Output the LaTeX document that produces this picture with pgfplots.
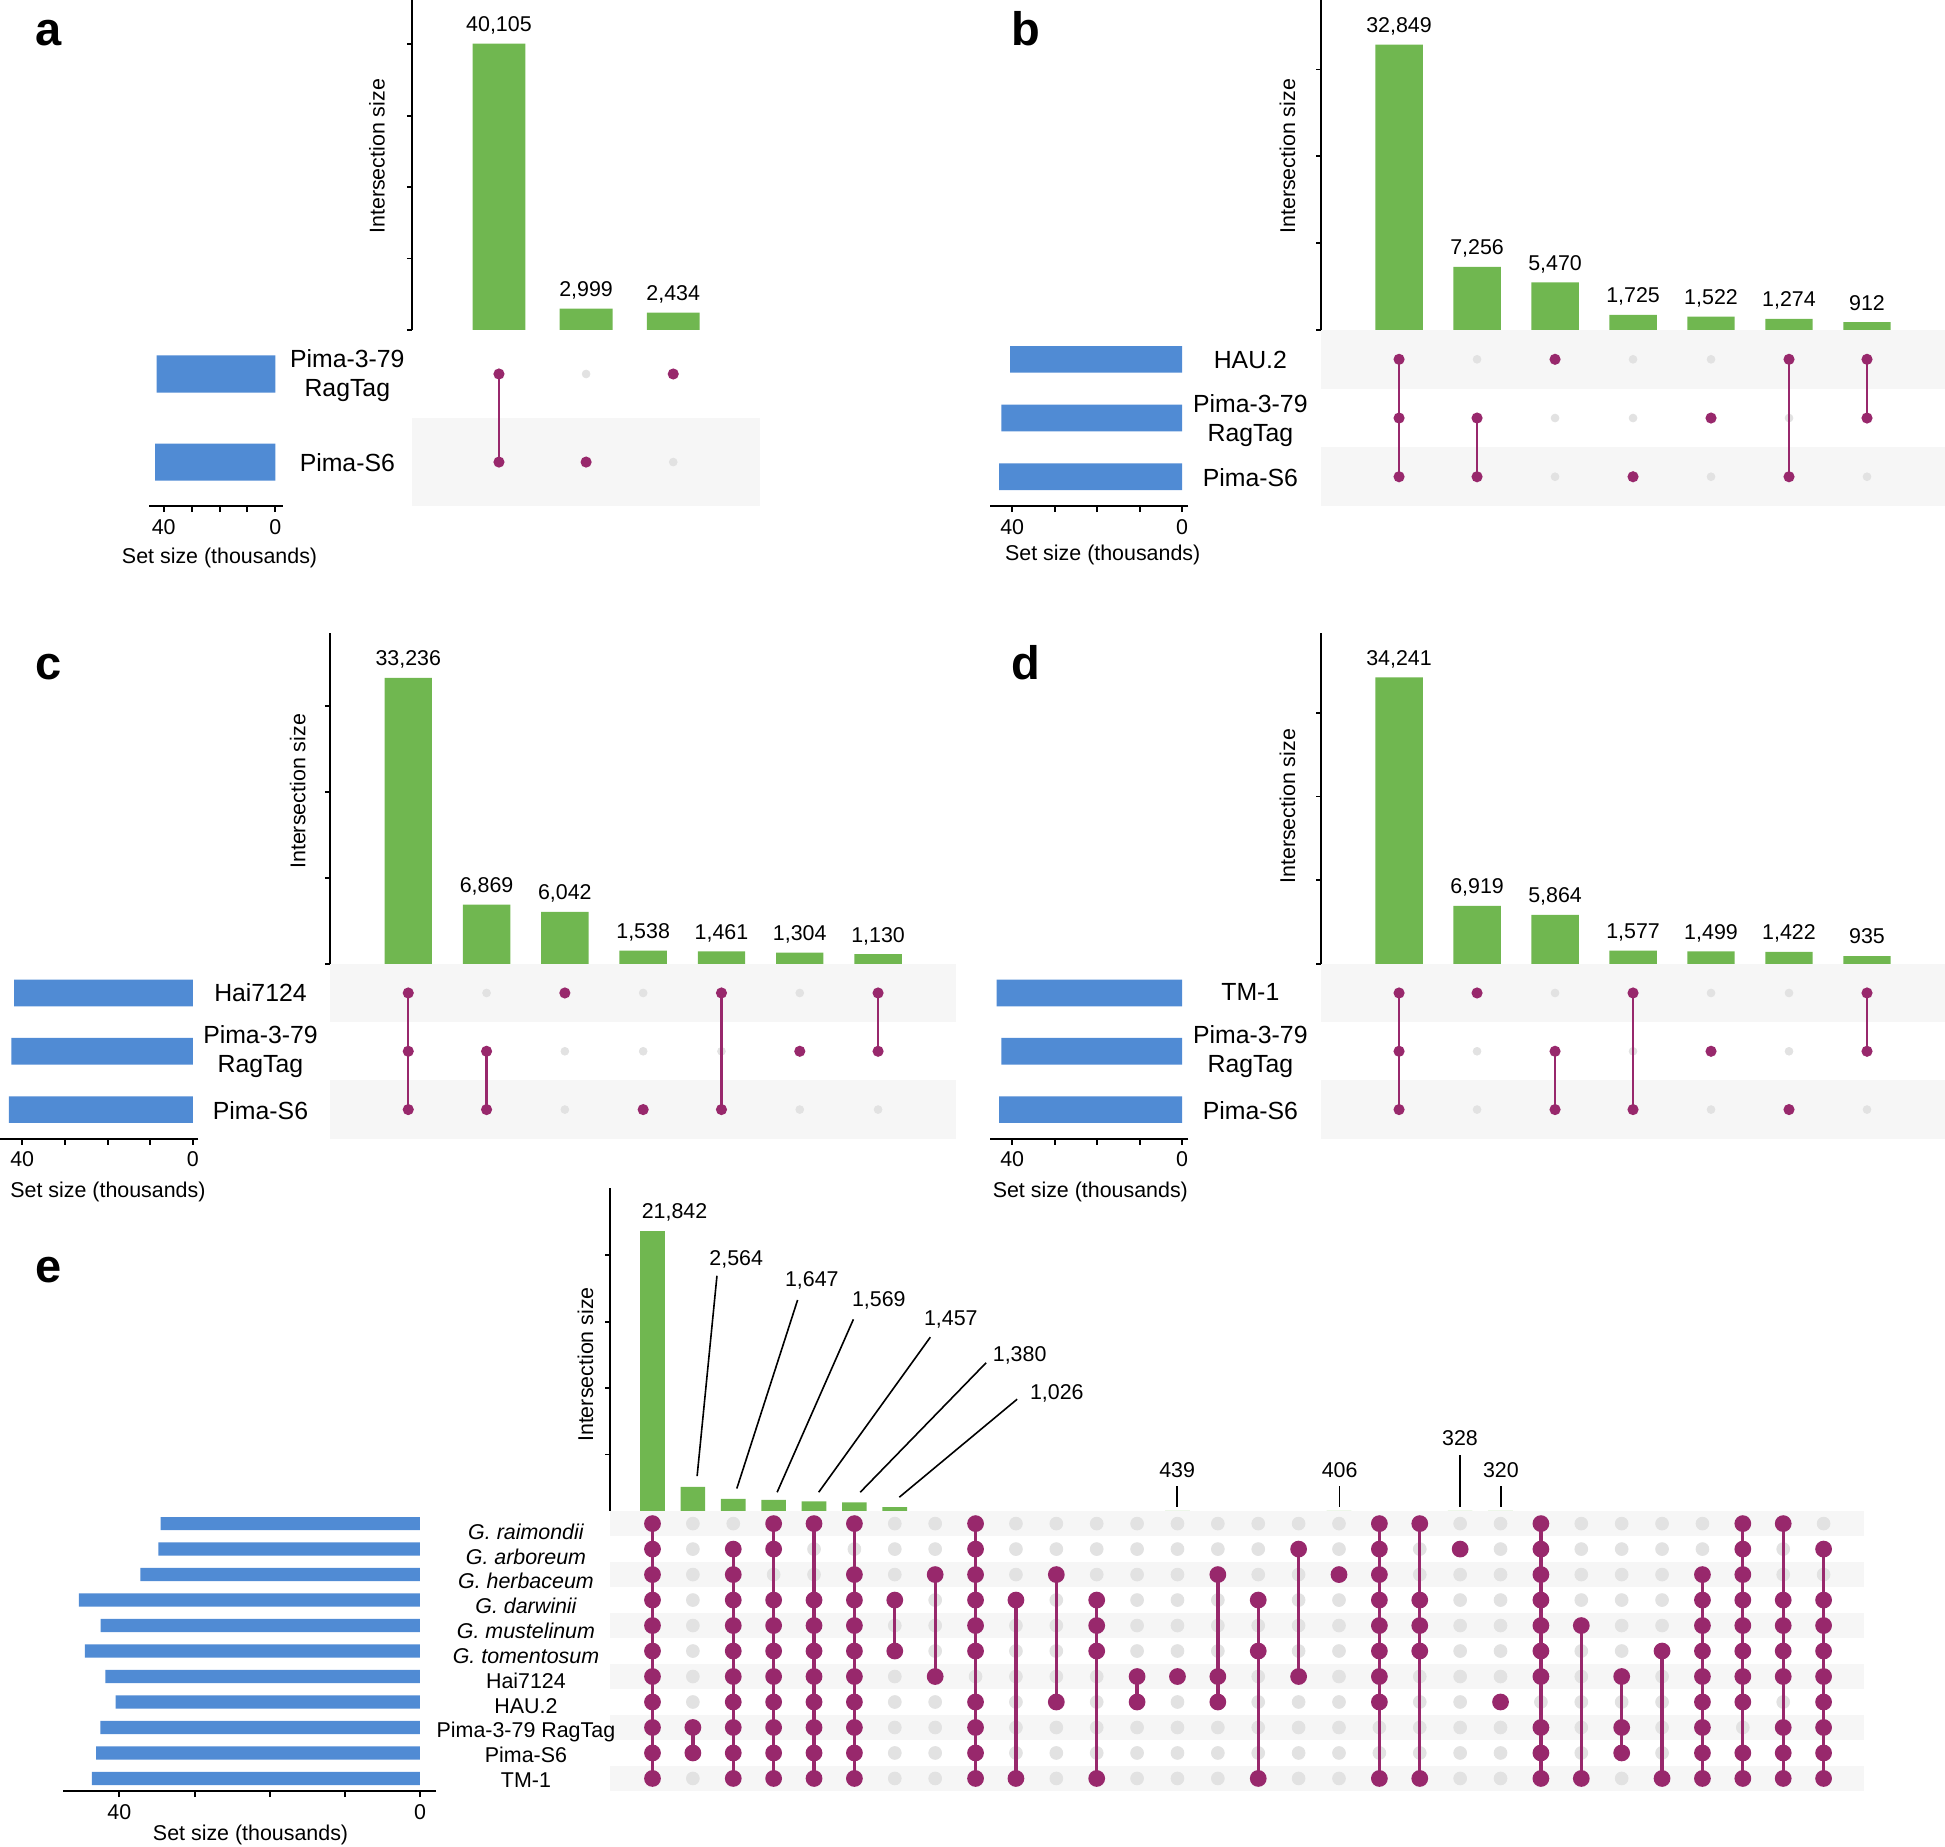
\documentclass[border=0pt]{standalone}
\usepackage{fontspec}
\setmainfont{Liberation Sans}
\usepackage{pgfplots}
\pgfplotsset{compat=1.18}

\definecolor{bargreen}{RGB}{112,183,80}
\definecolor{setblue}{RGB}{80,139,212}
\definecolor{dotpurple}{RGB}{152,40,108}
\definecolor{dotgray}{RGB}{226,226,226}
\definecolor{bandgray}{RGB}{246,246,246}

\newcommand\fa{\fontsize{10.7}{12.8}\selectfont}
\newcommand\fb{\fontsize{12.4}{14.3}\selectfont}
\newcommand\fl{\fontsize{23.5}{28}\selectfont\bfseries}

\pgfplotsset{
  every axis/.append style={scale only axis, clip=false, clip marker paths=true,
    font=\fa,
    /pgf/number format/assume math mode=true,
    /pgf/number format/1000 sep={,}},
  interbars/.style={ymin=0, axis x line=none, axis y line*=left,
    scaled y ticks=false, yticklabels={}, tick align=outside, major tick length=2.5pt,
    y axis line style={line width=0.9pt}, ytick style={line width=0.9pt, black},
    every node near coord/.append style={font=\fa, black, anchor=base, yshift=6pt}},
  matrixaxis/.style={hide axis, y dir=reverse},
  setaxis/.style={x dir=reverse, axis y line=none, axis x line*=bottom,
    xtick={0,10,20,30,40}, xticklabels={0,,,,40}, tick align=outside,
    major tick length=3pt, x axis line style={line width=1.2pt},
    xtick style={line width=1pt, black}},
  gbar/.style={ybar, bar shift=0pt, bar width=#1, fill=bargreen, draw=none},
  sbar/.style={xbar, bar shift=0pt, bar width=#1, fill=setblue, draw=none},
  graydot/.style={only marks, mark=*, color=dotgray, mark size=#1},
  memb/.style={color=dotpurple, line width=1.1pt, mark=*, mark size=2.2pt, mark options={solid}},
  membE/.style={color=dotpurple, line width=1.65pt, mark=*, mark size=3.35pt, mark options={solid}},
}

\begin{document}
\begin{tikzpicture}
\path[use as bounding box] (0,0) rectangle (972.16pt,-923.18pt);

% ================= a =================
\begin{axis}[interbars, at={(205.84pt,-164.92pt)}, anchor=south west,
  width=174.22pt, height=164.92pt, xmin=0, xmax=4, ymax=46200,
  ytick={0,10000,...,40000}]
\addplot[gbar=26.4pt, nodes near coords] coordinates {(1,40105) (2,2999) (3,2434)};
\end{axis}
\begin{axis}[matrixaxis, at={(205.84pt,-164.92pt)}, anchor=north west,
  width=174.22pt, height=88.04pt, xmin=0, xmax=4, ymin=0.5, ymax=2.5]
\fill[bandgray] (axis cs:0,1.5) rectangle (axis cs:4,2.5);
\addplot[graydot=1.95pt] coordinates {(1,1)(2,1)(3,1)(1,2)(2,2)(3,2)};
\addplot[memb] coordinates {(1,1)(1,2)};
\addplot[memb] coordinates {(2,2)};
\addplot[memb] coordinates {(3,1)};
\end{axis}
\begin{axis}[setaxis, at={(74.4pt,-164.92pt)}, anchor=north west,
  width=66.96pt, height=88.04pt, xmin=-2.67, xmax=45.33, ymin=0.5, ymax=2.5]
\addplot[sbar=18.5pt] coordinates {(42.539,2) (43.104,1)};
\end{axis}

% ================= b =================
\begin{axis}[interbars, at={(660.3pt,-164.92pt)}, anchor=south west,
  width=311.86pt, height=164.92pt, xmin=0, xmax=8, ymax=38000,
  ytick={0,10000,...,30000}]
\addplot[gbar=23.7pt, nodes near coords] coordinates
  {(1,32849) (2,7256) (3,5470) (4,1725) (5,1522) (6,1274) (7,912)};
\end{axis}
\begin{axis}[matrixaxis, at={(660.3pt,-164.92pt)}, anchor=north west,
  width=311.86pt, height=88.04pt, xmin=0, xmax=8, ymin=0.5, ymax=3.5]
\fill[bandgray] (axis cs:0,0.5) rectangle (axis cs:8,1.5);
\fill[bandgray] (axis cs:0,2.5) rectangle (axis cs:8,3.5);
\pgfplotsinvokeforeach{1,2,3}{\addplot[graydot=1.95pt] coordinates {(1,#1)(2,#1)(3,#1)(4,#1)(5,#1)(6,#1)(7,#1)};}
\addplot[memb] coordinates {(1,1)(1,2)(1,3)};
\addplot[memb] coordinates {(2,2)(2,3)};
\addplot[memb] coordinates {(3,1)};
\addplot[memb] coordinates {(4,3)};
\addplot[memb] coordinates {(5,2)};
\addplot[memb] coordinates {(6,1)(6,3)};
\addplot[memb] coordinates {(7,1)(7,2)};
\end{axis}
\begin{axis}[setaxis, at={(494.76pt,-164.92pt)}, anchor=north west,
  width=99.2pt, height=88.04pt, xmin=-1.46, xmax=45.26, ymin=0.5, ymax=3.5]
\addplot[sbar=13.3pt] coordinates {(40.505,3) (42.539,2) (43.104,1)};
\end{axis}

% ================= c =================
\begin{axis}[interbars, at={(164.92pt,-481.74pt)}, anchor=south west,
  width=313.1pt, height=165.54pt, xmin=0, xmax=8, ymax=38500,
  ytick={0,10000,...,30000}]
\addplot[gbar=23.7pt, nodes near coords] coordinates
  {(1,33236) (2,6869) (3,6042) (4,1538) (5,1461) (6,1304) (7,1130)};
\end{axis}
\begin{axis}[matrixaxis, at={(164.92pt,-481.74pt)}, anchor=north west,
  width=313.1pt, height=87.42pt, xmin=0, xmax=8, ymin=0.5, ymax=3.5]
\fill[bandgray] (axis cs:0,0.5) rectangle (axis cs:8,1.5);
\fill[bandgray] (axis cs:0,2.5) rectangle (axis cs:8,3.5);
\pgfplotsinvokeforeach{1,2,3}{\addplot[graydot=1.95pt] coordinates {(1,#1)(2,#1)(3,#1)(4,#1)(5,#1)(6,#1)(7,#1)};}
\addplot[memb] coordinates {(1,1)(1,2)(1,3)};
\addplot[memb] coordinates {(2,2)(2,3)};
\addplot[memb] coordinates {(3,1)};
\addplot[memb] coordinates {(4,3)};
\addplot[memb] coordinates {(5,1)(5,3)};
\addplot[memb] coordinates {(6,2)};
\addplot[memb] coordinates {(7,1)(7,2)};
\end{axis}
\begin{axis}[setaxis, at={(0pt,-481.74pt)}, anchor=north west,
  width=99.2pt, height=87.42pt, xmin=-1.31, xmax=45.2, ymin=0.5, ymax=3.5]
\addplot[sbar=13.3pt] coordinates {(41.869,3) (42.539,2) (43.104,1)};
\end{axis}

% ================= d =================
\begin{axis}[interbars, at={(660.3pt,-481.74pt)}, anchor=south west,
  width=311.86pt, height=165.54pt, xmin=0, xmax=8, ymax=39600,
  ytick={0,10000,...,30000}]
\addplot[gbar=23.7pt, nodes near coords] coordinates
  {(1,34241) (2,6919) (3,5864) (4,1577) (5,1499) (6,1422) (7,935)};
\end{axis}
\begin{axis}[matrixaxis, at={(660.3pt,-481.74pt)}, anchor=north west,
  width=311.86pt, height=87.42pt, xmin=0, xmax=8, ymin=0.5, ymax=3.5]
\fill[bandgray] (axis cs:0,0.5) rectangle (axis cs:8,1.5);
\fill[bandgray] (axis cs:0,2.5) rectangle (axis cs:8,3.5);
\pgfplotsinvokeforeach{1,2,3}{\addplot[graydot=1.95pt] coordinates {(1,#1)(2,#1)(3,#1)(4,#1)(5,#1)(6,#1)(7,#1)};}
\addplot[memb] coordinates {(1,1)(1,2)(1,3)};
\addplot[memb] coordinates {(2,1)};
\addplot[memb] coordinates {(3,2)(3,3)};
\addplot[memb] coordinates {(4,1)(4,3)};
\addplot[memb] coordinates {(5,2)};
\addplot[memb] coordinates {(6,3)};
\addplot[memb] coordinates {(7,1)(7,2)};
\end{axis}
\begin{axis}[setaxis, at={(494.76pt,-481.74pt)}, anchor=north west,
  width=99.2pt, height=87.42pt, xmin=-1.46, xmax=45.26, ymin=0.5, ymax=3.5]
\addplot[sbar=13.3pt] coordinates {(43.672,3) (42.539,2) (43.104,1)};
\end{axis}

% ================= e =================
% the zero level lies a little below the top of the matrix, as in the figure
\begin{axis}[interbars, at={(305.04pt,-755.16pt)}, anchor=south west,
  width=626.82pt, height=161.2pt, xmin=-0.045, xmax=31.01, ymin=748, ymax=25047,
  ytick={5000,10000,...,20000}]
\addplot[gbar=12.3pt, nodes near coords,
  every node near coord/.append style={xshift=11pt}] coordinates {(1,21842)};
\addplot[gbar=12.3pt] coordinates
  {(2,2564) (3,1647) (4,1569) (5,1457) (6,1380) (7,1026)
   (14,439) (18,406) (21,328) (22,320)};
\end{axis}
\begin{axis}[matrixaxis, at={(305.04pt,-755.16pt)}, anchor=north west,
  width=626.82pt, height=140.12pt, xmin=-0.045, xmax=31.01, ymin=0.5, ymax=11.5]
\fill[white] (axis cs:-0.045,0.5) rectangle (axis cs:31.01,11.5);
\pgfplotsinvokeforeach{1,3,5,7,9,11}{\fill[bandgray] (axis cs:-0.045,#1-0.5) rectangle (axis cs:31.01,#1+0.5);}
\pgfplotsinvokeforeach{1,...,11}{\addplot[graydot=3.2pt] coordinates {(1,#1)(2,#1)(3,#1)(4,#1)(5,#1)(6,#1)(7,#1)(8,#1)(9,#1)(10,#1)(11,#1)(12,#1)(13,#1)(14,#1)(15,#1)(16,#1)(17,#1)(18,#1)(19,#1)(20,#1)(21,#1)(22,#1)(23,#1)(24,#1)(25,#1)(26,#1)(27,#1)(28,#1)(29,#1)(30,#1)};}
\addplot[membE] coordinates {(1,1)(1,2)(1,3)(1,4)(1,5)(1,6)(1,7)(1,8)(1,9)(1,10)(1,11)};
\addplot[membE] coordinates {(2,9)(2,10)};
\addplot[membE] coordinates {(3,2)(3,3)(3,4)(3,5)(3,6)(3,7)(3,8)(3,9)(3,10)(3,11)};
\addplot[membE] coordinates {(4,1)(4,2)(4,4)(4,5)(4,6)(4,7)(4,8)(4,9)(4,10)(4,11)};
\addplot[membE] coordinates {(5,1)(5,4)(5,5)(5,6)(5,7)(5,8)(5,9)(5,10)(5,11)};
\addplot[membE] coordinates {(6,1)(6,3)(6,4)(6,5)(6,6)(6,7)(6,8)(6,9)(6,10)(6,11)};
\addplot[membE] coordinates {(7,4)(7,6)};
\addplot[membE] coordinates {(8,3)(8,7)};
\addplot[membE] coordinates {(9,1)(9,2)(9,3)(9,4)(9,5)(9,6)(9,8)(9,9)(9,10)(9,11)};
\addplot[membE] coordinates {(10,4)(10,11)};
\addplot[membE] coordinates {(11,3)(11,8)};
\addplot[membE] coordinates {(12,4)(12,5)(12,6)(12,11)};
\addplot[membE] coordinates {(13,7)(13,8)};
\addplot[membE] coordinates {(14,7)};
\addplot[membE] coordinates {(15,3)(15,7)(15,8)};
\addplot[membE] coordinates {(16,4)(16,6)(16,11)};
\addplot[membE] coordinates {(17,2)(17,7)};
\addplot[membE] coordinates {(18,3)};
\addplot[membE] coordinates {(19,1)(19,2)(19,3)(19,4)(19,5)(19,6)(19,7)(19,8)(19,11)};
\addplot[membE] coordinates {(20,1)(20,4)(20,5)(20,6)(20,11)};
\addplot[membE] coordinates {(21,2)};
\addplot[membE] coordinates {(22,8)};
\addplot[membE] coordinates {(23,1)(23,2)(23,3)(23,4)(23,5)(23,6)(23,7)(23,9)(23,10)(23,11)};
\addplot[membE] coordinates {(24,5)(24,11)};
\addplot[membE] coordinates {(25,7)(25,9)(25,10)};
\addplot[membE] coordinates {(26,6)(26,11)};
\addplot[membE] coordinates {(27,3)(27,4)(27,5)(27,6)(27,7)(27,8)(27,9)(27,10)(27,11)};
\addplot[membE] coordinates {(28,1)(28,2)(28,3)(28,4)(28,5)(28,6)(28,7)(28,8)(28,10)(28,11)};
\addplot[membE] coordinates {(29,1)(29,4)(29,5)(29,6)(29,7)(29,9)(29,10)(29,11)};
\addplot[membE] coordinates {(30,2)(30,4)(30,5)(30,6)(30,7)(30,8)(30,9)(30,10)(30,11)};
\end{axis}
\begin{axis}[setaxis, at={(31.5pt,-755.16pt)}, anchor=north west,
  width=186.5pt, height=140.12pt, xmin=-2.15, xmax=47.5, ymin=0.5, ymax=11.5]
\addplot[sbar=6.6pt] coordinates {(34.5,11) (34.8,10) (37.2,9) (45.4,8) (42.5,7)
  (44.6,6) (41.869,5) (40.505,4) (42.539,3) (43.104,2) (43.672,1)};
\end{axis}

% ================= text =================
\begin{scope}[x=0.62pt, y=-0.62pt]
% panel letters
\node[font=\fl, anchor=base west, inner sep=0] at (28,37) {a};
\node[font=\fl, anchor=base west, inner sep=0] at (815,37) {b};
\node[font=\fl, anchor=base west, inner sep=0] at (28,548) {c};
\node[font=\fl, anchor=base west, inner sep=0] at (815,548) {d};
\node[font=\fl, anchor=base west, inner sep=0] at (28,1034) {e};
% axis titles
\node[font=\fa, rotate=90] at (304,126) {Intersection size};
\node[font=\fa, rotate=90] at (1038,126) {Intersection size};
\node[font=\fa, rotate=90] at (240,638) {Intersection size};
\node[font=\fa, rotate=90] at (1038,650) {Intersection size};
\node[font=\fa, rotate=90] at (472,1100) {Intersection size};
\node[font=\fa] at (177,450) {Set size (thousands)};
\node[font=\fa] at (889,447) {Set size (thousands)};
\node[font=\fa] at (87,961) {Set size (thousands)};
\node[font=\fa] at (879,961) {Set size (thousands)};
\node[font=\fa] at (202,1479) {Set size (thousands)};
% set names a-d
\node[font=\fb, align=center] at (280,303) {Pima-3-79\\RagTag};
\node[font=\fb] at (280,373) {Pima-S6};
\node[font=\fb] at (1008,290) {HAU.2};
\node[font=\fb, align=center] at (1008,339) {Pima-3-79\\RagTag};
\node[font=\fb] at (1008,385) {Pima-S6};
\node[font=\fb] at (210,800) {Hai7124};
\node[font=\fb, align=center] at (210,848) {Pima-3-79\\RagTag};
\node[font=\fb] at (210,895) {Pima-S6};
\node[font=\fb] at (1008,800) {TM-1};
\node[font=\fb, align=center] at (1008,848) {Pima-3-79\\RagTag};
\node[font=\fb] at (1008,895) {Pima-S6};
% set names e
\node[font=\fa, anchor=base] at (424,1241) {\itshape G. raimondii};
\node[font=\fa, anchor=base] at (424,1261) {\itshape G. arboreum};
\node[font=\fa, anchor=base] at (424,1281) {\itshape G. herbaceum};
\node[font=\fa, anchor=base] at (424,1301) {\itshape G. darwinii};
\node[font=\fa, anchor=base] at (424,1321) {\itshape G. mustelinum};
\node[font=\fa, anchor=base] at (424,1341) {\itshape G. tomentosum};
\node[font=\fa, anchor=base] at (424,1361) {Hai7124};
\node[font=\fa, anchor=base] at (424,1381) {HAU.2};
\node[font=\fa, anchor=base] at (424,1401) {Pima-3-79 RagTag};
\node[font=\fa, anchor=base] at (424,1421) {Pima-S6};
\node[font=\fa, anchor=base] at (424,1441) {TM-1};
% repelled labels in e
\draw[line width=0.8pt] (578,1028.5) -- (562,1190);
\draw[line width=0.8pt] (643,1048) -- (594,1200);
\draw[line width=0.8pt] (688,1063.6) -- (626.5,1203);
\draw[line width=0.8pt] (750,1078) -- (660,1203);
\draw[line width=0.8pt] (795,1098.6) -- (693.5,1203);
\draw[line width=0.8pt] (820,1128) -- (725,1207);
\draw[line width=0.8pt] (949,1198) -- (949,1215);
\draw[line width=0.8pt] (1080,1198) -- (1080,1215);
\draw[line width=0.8pt] (1177,1173) -- (1177,1215);
\draw[line width=0.8pt] (1210,1198) -- (1210,1215);
\node[font=\fa] at (593.5,1015) {2,564};
\node[font=\fa] at (654.5,1032) {1,647};
\node[font=\fa] at (708.5,1048.6) {1,569};
\node[font=\fa] at (766.5,1064) {1,457};
\node[font=\fa] at (822,1092.4) {1,380};
\node[font=\fa] at (852,1123) {1,026};
\node[font=\fa] at (949,1185) {439};
\node[font=\fa] at (1080,1185) {406};
\node[font=\fa] at (1177,1159.5) {328};
\node[font=\fa] at (1210,1185) {320};
\end{scope}
\end{tikzpicture}
\end{document}
